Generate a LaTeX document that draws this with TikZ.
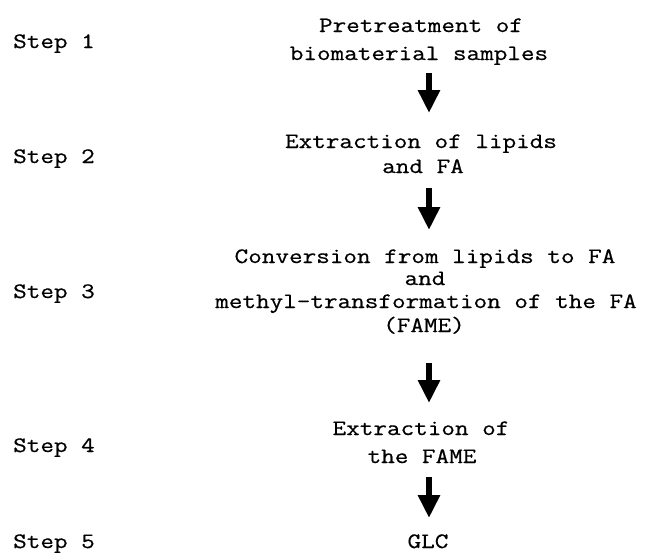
\documentclass[tikz,border=0pt]{standalone}
\usepackage{fontspec}
\setmonofont{Latin Modern Mono}[FakeStretch=1.2, FakeBold=0.6]
\usetikzlibrary{arrows.meta}
\tikzset{
  txt/.style={font=\ttfamily\fontsize{22}{26}\selectfont, inner sep=0pt, anchor=base, text=black},
  lbl/.style={txt, anchor=base west},
  arr/.style={line width=6pt, -{Triangle[width=21pt,length=23pt]}, black}
}
\begin{document}
\begin{tikzpicture}[x=1pt,y=-1pt]
\useasboundingbox (0,0) rectangle (647,552);
% step labels
\node[lbl] (s1) at (13,48) {Step 1};
\node[lbl] (s2) at (13,163) {Step 2};
\node[lbl] (s3) at (13,298) {Step 3};
\node[lbl] (s4) at (13,452) {Step 4};
\node[lbl] (s5) at (13,548) {Step 5};
% block 1
\node[txt] (b1a) at (421,32) {Pretreatment of};
\node[txt] (b1b) at (419,60) {biomaterial samples};
% block 2
\node[txt] (b2a) at (421,148) {Extraction of lipids};
\node[txt] (b2b) at (423,173) {and FA};
% block 3
\node[txt] (b3a) at (425,263) {Conversion from lipids to FA};
\node[txt] (b3b) at (425,285) {and};
\node[txt] (b3c) at (426,308) {methyl-transformation of the FA};
\node[txt] (b3d) at (424,332) {(FAME)};
% block 4
\node[txt] (b4a) at (421,435) {Extraction of};
\node[txt] (b4b) at (422,463) {the FAME};
% block 5
\node[txt] (b5) at (428,548) {GLC};
% arrows
\coordinate (a1s) at (429,73);  \coordinate (a1e) at (429,113);
\coordinate (a2s) at (429,188); \coordinate (a2e) at (429,230);
\coordinate (a3s) at (429,363); \coordinate (a3e) at (429,403);
\coordinate (a4s) at (429,477); \coordinate (a4e) at (429,518);
\draw[arr] (a1s) -- (a1e);
\draw[arr] (a2s) -- (a2e);
\draw[arr] (a3s) -- (a3e);
\draw[arr] (a4s) -- (a4e);
\end{tikzpicture}
\end{document}
